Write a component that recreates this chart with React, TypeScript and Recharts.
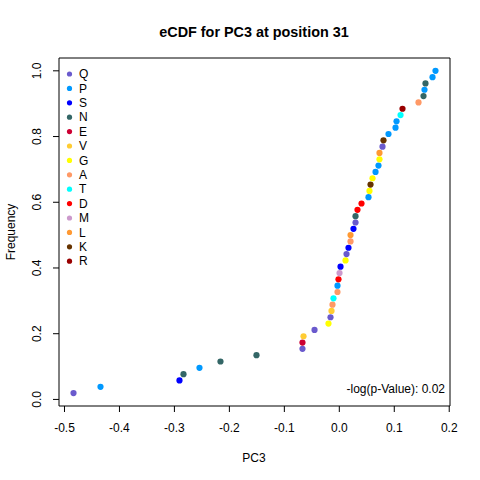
import { ScatterChart, Scatter, XAxis, YAxis, ReferenceArea, Cell } from 'recharts';

// PC3 values, in sorted order
const pc3Values = [
  -0.4836, -0.4345, -0.2908, -0.2835, -0.2544, -0.2162, -0.1507, -0.067, -0.067, -0.0651,
  -0.0451, -0.0197, -0.016, -0.0142, -0.0124, -0.0106, -0.0033, -0.0033, -0.0015, 0.0004,
  0.0022, 0.0113, 0.0131, 0.0167, 0.0204, 0.0204, 0.0258, 0.0295, 0.0295, 0.0331,
  0.0404, 0.0531, 0.0549, 0.0568, 0.0604, 0.0659, 0.0713, 0.0731, 0.0731, 0.0786,
  0.0804, 0.0895, 0.1023, 0.1041, 0.1114, 0.115, 0.1441, 0.1532, 0.155, 0.1568,
  0.1696, 0.175,
];

// amino acid of each point, same order
const residues = [
  'Q', 'P', 'S', 'N', 'P', 'N', 'N', 'Q', 'E', 'V',
  'Q', 'G', 'Q', 'V', 'A', 'T', 'A', 'P', 'D', 'M',
  'S', 'G', 'Q', 'S', 'A', 'L', 'S', 'Q', 'N', 'D',
  'D', 'P', 'G', 'K', 'G', 'P', 'P', 'G', 'L', 'Q',
  'K', 'P', 'P', 'P', 'T', 'R', 'A', 'N', 'P', 'N',
  'P', 'P',
];

const legendLabels = ['Q', 'P', 'S', 'N', 'E', 'V', 'G', 'A', 'T', 'D', 'M', 'L', 'K', 'R'];
const legendColors = ['#6A5ACD', '#0099FF', '#0000FF', '#336666', '#CC0033', '#FFCC33', '#FFFF00',
  '#FF9966', '#00FFFF', '#FF0000', '#CC99CC', '#FF9933', '#663300', '#990000'];

const xTicks = [-0.5, -0.4, -0.3, -0.2, -0.1, 0.0, 0.1, 0.2];
const yTicks = [0, 0.2, 0.4, 0.6, 0.8, 1.0];

const pValueText = '-log(p-Value): 0.02';

const colorOf = (r: string) => legendColors[legendLabels.indexOf(r)];

// empirical CDF: rank / n
const points = pc3Values.map((x, i) => ({ x, y: (i + 1) / pc3Values.length, res: residues[i] }));

const FONT = 'Liberation Sans, Arial, sans-serif';
const X_DOMAIN: [number, number] = [-0.51, 0.2014];
const Y_DOMAIN: [number, number] = [-0.02, 1.039];

const XTick = (props: any) => (
  <text x={props.x} y={428} textAnchor="middle" dy="0.35em" fontSize={12} fontFamily={FONT} fill="#000">
    {props.payload.value.toFixed(1)}
  </text>
);

const YTick = (props: any) => (
  <text x={37} y={props.y} textAnchor="middle" dy="0.35em" fontSize={12} fontFamily={FONT} fill="#000"
    transform={`rotate(-90, 37, ${props.y})`}>
    {props.payload.value.toFixed(1)}
  </text>
);

const Dot = (props: any) => <circle cx={props.cx} cy={props.cy} r={3.1} fill={props.fill} />;

export default function App() {
  return (
    <div style={{ position: 'absolute', left: 0, top: 0, width: 480, height: 480, background: '#fff' }}>
      <ScatterChart width={480} height={480} margin={{ top: 58, right: 30, bottom: 34, left: 19 }}>
        <XAxis type="number" dataKey="x" domain={X_DOMAIN} ticks={xTicks} allowDataOverflow
          height={40} axisLine={false} tickSize={6} tickLine={{ stroke: '#000' }} tick={<XTick />} interval={0} />
        <YAxis type="number" dataKey="y" domain={Y_DOMAIN} ticks={yTicks} allowDataOverflow
          width={40} axisLine={false} tickSize={6} tickLine={{ stroke: '#000' }} tick={<YTick />} interval={0} />
        <ReferenceArea x1={X_DOMAIN[0]} x2={X_DOMAIN[1]} y1={Y_DOMAIN[0]} y2={Y_DOMAIN[1]}
          fill="none" stroke="#000" strokeWidth={1} ifOverflow="visible" />
        <Scatter data={points} shape={<Dot />} isAnimationActive={false}>
          {points.map((p, i) => (
            <Cell key={`pt-${i}`} fill={colorOf(p.res)} />
          ))}
        </Scatter>
      </ScatterChart>
      <svg width={480} height={480} style={{ position: 'absolute', left: 0, top: 0, pointerEvents: 'none' }}>
        <text x={254} y={32} textAnchor="middle" dy="0.35em" fontSize={14.4} fontWeight="bold" fontFamily={FONT}>
          eCDF for PC3 at position 31
        </text>
        <text x={254} y={458} textAnchor="middle" dy="0.35em" fontSize={12} fontFamily={FONT}>PC3</text>
        <text x={11} y={232} textAnchor="middle" dy="0.35em" fontSize={12} fontFamily={FONT}
          transform="rotate(-90, 11, 232)">Frequency</text>
        {legendLabels.map((lab, i) => (
          <g key={lab}>
            <circle cx={69.5} cy={74 + i * 14.4} r={2.6} fill={legendColors[i]} />
            <text x={79} y={74 + i * 14.4} dy="0.35em" fontSize={12} fontFamily={FONT}>{lab}</text>
          </g>
        ))}
        <text x={445} y={389} textAnchor="end" dy="0.35em" fontSize={12} fontFamily={FONT}>{pValueText}</text>
      </svg>
    </div>
  );
}
